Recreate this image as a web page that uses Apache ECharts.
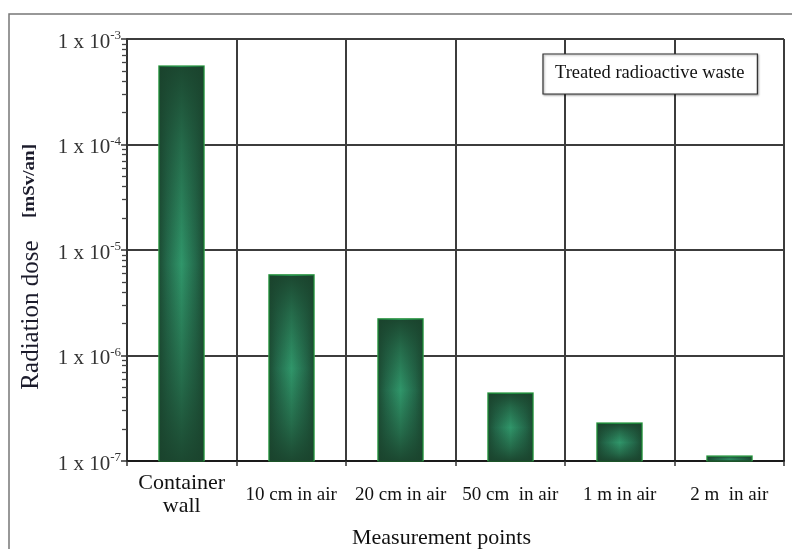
<!DOCTYPE html>
<html><head><meta charset="utf-8">
<script src="https://cdn.jsdelivr.net/npm/echarts@6/dist/echarts.min.js"></script>
<style>html,body{margin:0;padding:0;background:#fff}#c{width:792px;height:549px}</style>
</head><body><div id="c"></div>
<script>
const categories = ['Container\nwall', '10 cm in air', '20 cm in air', '50 cm  in air', '1 m in air', '2 m  in air'];
const doseValues = [5.55e-4, 5.8e-6, 2.22e-6, 4.4e-7, 2.29e-7, 1.11e-7];
const seriesName = 'Treated radioactive waste';
const yMin = 1e-7, yMax = 1e-3;
const majorTickValues = [1e-7, 1e-6, 1e-5, 1e-4, 1e-3];
const minorTickMultipliers = [2, 3, 4, 5, 6, 7, 8, 9];
const minorTickValues = [];
majorTickValues.slice(0, 4).forEach(function (d) {
  minorTickMultipliers.forEach(function (m) { minorTickValues.push(+(d * m).toPrecision(3)); });
});

const serif = '"Liberation Serif", "DejaVu Serif", serif';
const chart = echarts.init(document.getElementById('c'), null, {renderer: 'canvas'});

function expOf(v) { return String(Math.round(Math.log10(v))); }

const sideGradient = function () {
  return new echarts.graphic.LinearGradient(0, 0, 1, 0, [
    {offset: 0, color: '#1b4a32'}, {offset: 0.18, color: '#23684a'}, {offset: 0.5, color: '#30966a'},
    {offset: 0.82, color: '#23684a'}, {offset: 1, color: '#1b4a32'}]);
};
const endGradient = function () {
  return new echarts.graphic.LinearGradient(0, 0, 0, 1, [
    {offset: 0, color: 'rgba(26,66,44,0.92)'}, {offset: 0.2, color: 'rgba(26,66,44,0.5)'},
    {offset: 0.5, color: 'rgba(26,66,44,0)'}, {offset: 0.8, color: 'rgba(26,66,44,0.5)'},
    {offset: 1, color: 'rgba(26,66,44,0.92)'}]);
};

chart.setOption({
  backgroundColor: '#fff',
  animation: false,
  grid: {left: 127, right: 8, top: 39, bottom: 88, containLabel: false, outerBoundsMode: 'none'},
  legend: {
    data: [seriesName], left: 543, top: 54, icon: 'none', itemWidth: 0, itemGap: 0,
    padding: [10, 13, 11, 7], backgroundColor: '#fff', borderColor: '#333', borderWidth: 1.2,
    shadowColor: 'rgba(0,0,0,0.35)', shadowBlur: 2, shadowOffsetX: 1, shadowOffsetY: 1,
    textStyle: {fontFamily: serif, fontSize: 18.5, color: '#111'}, selectedMode: false
  },
  xAxis: {
    type: 'category', data: categories, boundaryGap: true,
    axisLine: {lineStyle: {color: '#1a1a1a', width: 2}},
    axisTick: {show: true, length: 5, alignWithLabel: false, lineStyle: {color: '#333', width: 1.5}},
    splitLine: {show: true, interval: 0, lineStyle: {color: '#3c3c3c', width: 2}},
    axisLabel: {
      interval: 0, margin: 34, verticalAlign: 'middle', fontFamily: serif, color: '#111', fontSize: 19,
      formatter: function (v, i) { return i === 0 ? '{big|' + v.replace('\n', '}\n{big|') + '}' : v; },
      rich: {big: {fontFamily: serif, fontSize: 22, lineHeight: 23, color: '#111'}}
    },
    name: 'Measurement points', nameLocation: 'middle', nameGap: 66,
    nameTextStyle: {fontFamily: serif, fontSize: 22, color: '#111', padding: [0, 28, 0, 0]}
  },
  yAxis: [{
    type: 'log', logBase: 10, min: yMin, max: yMax,
    axisLine: {show: true, lineStyle: {color: '#333', width: 2}},
    axisTick: {show: true, length: 6, lineStyle: {color: '#333', width: 1.5}},
    splitLine: {show: true, lineStyle: {color: '#3c3c3c', width: 2}},
    axisLabel: {
      margin: 6, fontFamily: serif, fontSize: 21, color: '#333', padding: [6, 0, 0, 0],
      formatter: function (v) { return '1 x 10{sup|' + expOf(v) + '}'; },
      rich: {sup: {fontFamily: serif, fontSize: 13, color: '#333', verticalAlign: 'top', padding: [0, 0, 12, 0]}}
    }
  }, {
    type: 'log', logBase: 10, min: yMin, max: yMax, position: 'left',
    axisLine: {show: false}, splitLine: {show: false}, axisLabel: {show: false},
    axisTick: {show: true, length: 5, customValues: minorTickValues, lineStyle: {color: '#444', width: 1.3}}
  }],
  graphic: [
    {type: 'rect', shape: {x: 9, y: 14, width: 820, height: 600}, style: {fill: 'none', stroke: '#777', lineWidth: 1.5}, silent: true, z: -10},
    {type: 'text', x: 31, y: 315, rotation: Math.PI / 2,
     style: {text: 'Radiation dose', align: 'center', verticalAlign: 'middle',
       fontFamily: serif, fontSize: 25, fill: '#1b1b2b'}},
    {type: 'text', x: 30, y: 181, rotation: Math.PI / 2, scaleX: 1.12,
     style: {text: '[mSv/an]', align: 'center', verticalAlign: 'middle',
       fontFamily: serif, fontSize: 17, fontWeight: 'bold', fill: '#1b1b2b'}}
  ],
  series: [{
    name: seriesName, type: 'custom', yAxisIndex: 0, clip: false,
    data: doseValues.map(function (v, i) { return [i, v]; }),
    encode: {x: 0, y: 1},
    renderItem: function (params, api) {
      const i = api.value(0), v = api.value(1);
      const top = api.coord([i, v]);
      const base = api.coord([i, yMin]);
      const w = Math.round(api.size([1, 0])[0] * 0.41);
      const x = Math.round(top[0] - w / 2);
      const h = base[1] - top[1];
      return {type: 'group', children: [
        {type: 'rect', shape: {x: x - 1, y: top[1] - 1, width: w + 2, height: h + 1}, style: {fill: 'rgba(160,220,170,0.45)'}},
        {type: 'rect', shape: {x: x, y: top[1], width: w, height: h}, style: {fill: sideGradient(), stroke: '#1e8c36', lineWidth: 1.2}},
        {type: 'rect', shape: {x: x + 1, y: top[1] + 1, width: w - 2, height: h - 1}, style: {fill: endGradient()}}
      ]};
    }
  }]
});
</script></body></html>
